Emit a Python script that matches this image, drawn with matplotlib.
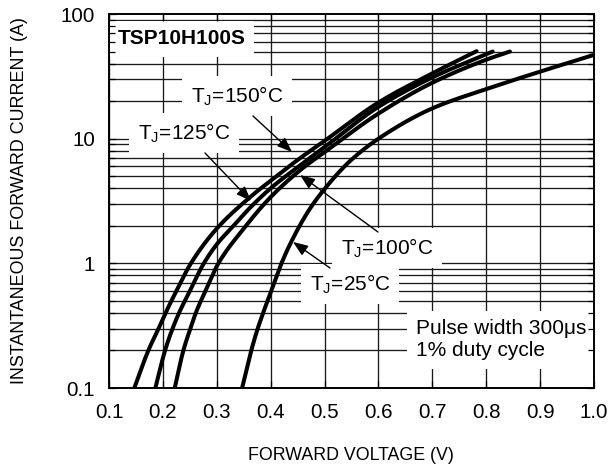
import matplotlib
matplotlib.use("Agg")
import matplotlib.pyplot as plt
import numpy as np

plt.rcParams['font.family'] = ['Liberation Sans', 'DejaVu Sans']

# Forward characteristics (V, A)
v_150 = [0.147, 0.173, 0.192, 0.205, 0.225, 0.252, 0.300, 0.362, 0.400, 0.455, 0.500, 0.600, 0.700, 0.782]
i_150 = [0.1, 0.2, 0.3, 0.4, 0.6, 1.0, 1.9, 3.4, 4.6, 7.0, 9.6, 19.5, 33.4, 50.3]

v_125 = [0.186, 0.204, 0.218, 0.230, 0.250, 0.276, 0.300, 0.331, 0.362, 0.400, 0.450, 0.500, 0.600, 0.700, 0.812]
i_125 = [0.1, 0.2, 0.3, 0.4, 0.6, 1.0, 1.42, 2.0, 2.8, 4.0, 5.9, 8.55, 18.0, 31.0, 50.0]

v_100 = [0.222, 0.238, 0.251, 0.261, 0.279, 0.303, 0.350, 0.400, 0.455, 0.500, 0.600, 0.700, 0.800, 0.844]
i_100 = [0.1, 0.2, 0.3, 0.4, 0.6, 1.0, 1.9, 3.4, 5.6, 7.8, 15.9, 28.1, 43.0, 50.0]

v_25 = [0.347, 0.364, 0.376, 0.386, 0.401, 0.420, 0.445, 0.473, 0.500, 0.547, 0.600, 0.700, 0.800, 0.900, 1.000]
i_25 = [0.1, 0.2, 0.3, 0.4, 0.6, 1.0, 1.7, 2.75, 3.95, 6.6, 10.0, 17.5, 25.0, 34.5, 47.0]

x_ticks = [0.1, 0.2, 0.3, 0.4, 0.5, 0.6, 0.7, 0.8, 0.9, 1.0]
x_labels = ['0.1', '0.2', '0.3', '0.4', '0.5', '0.6', '0.7', '0.8', '0.9', '1.0']
y_ticks = [0.1, 1, 10, 100]
y_labels = ['0.1', '1', '10', '100']


def smooth_path(v, i, n=25):
    """Monotone cubic Hermite through the read points (in log-current space), for drawing only."""
    x = np.asarray(v, float)
    y = np.log10(np.asarray(i, float))
    h = np.diff(x)
    d = np.diff(y) / h
    m = np.zeros_like(x)
    m[0], m[-1] = d[0], d[-1]
    for k in range(1, len(x) - 1):
        if d[k - 1] * d[k] <= 0:
            m[k] = 0
        else:
            w1 = 2 * h[k] + h[k - 1]
            w2 = h[k] + 2 * h[k - 1]
            m[k] = (w1 + w2) / (w1 / d[k - 1] + w2 / d[k])
    xs, ys = [], []
    for k in range(len(x) - 1):
        t = np.linspace(0, 1, n, endpoint=False)
        h00 = 2 * t**3 - 3 * t**2 + 1
        h10 = t**3 - 2 * t**2 + t
        h01 = -2 * t**3 + 3 * t**2
        h11 = t**3 - t**2
        xs.append(x[k] + t * h[k])
        ys.append(h00 * y[k] + h10 * h[k] * m[k] + h01 * y[k + 1] + h11 * h[k] * m[k + 1])
    xs.append([x[-1]])
    ys.append([y[-1]])
    return np.concatenate(xs), 10 ** np.concatenate(ys)


W, H = 616, 475
fig = plt.figure(figsize=(W / 100, H / 100), dpi=100)
L, R, T, B = 109, 594, 14, 388
ax = fig.add_axes([L / W, (H - B) / H, (R - L) / W, (B - T) / H])
ax.set_yscale('log')
ax.set_xlim(0.1, 1.0)
ax.set_ylim(0.1, 100)

# grid
for xv in x_ticks:
    ax.axvline(xv, color='#1a1a1a', lw=0.95, zorder=1)
for dec in [0.1, 1, 10]:
    for k in range(1, 10):
        ax.axhline(k * dec, color='#1a1a1a', lw=0.95, zorder=1)

# curves
for v, i in [(v_150, i_150), (v_125, i_125), (v_100, i_100), (v_25, i_25)]:
    sx, sy = smooth_path(v, i)
    ax.plot(sx, sy, color='black', lw=2.9, solid_capstyle='round', solid_joinstyle='round', zorder=4)

ax.set_xticks(x_ticks)
ax.set_xticklabels(x_labels)
ax.set_yticks(y_ticks)
ax.set_yticklabels(y_labels)
ax.tick_params(which='both', direction='in', top=True, right=True, labelsize=14.8, colors='black')
ax.tick_params(which='major', length=5, width=0.9)
ax.tick_params(which='minor', length=4, width=0.9)
ax.tick_params(axis='x', which='both', pad=11)
ax.tick_params(axis='y', which='both', pad=10)
ax.yaxis.set_minor_formatter(matplotlib.ticker.NullFormatter())
ax.xaxis.set_zorder(6)
ax.yaxis.set_zorder(6)
for s in ax.spines.values():
    s.set_linewidth(1.4)
    s.set_zorder(7)

fs = 15
box = dict(facecolor='white', edgecolor='none', pad=6)


def px(xp, yp):
    # figure pixel coords (top-left origin) -> figure fraction
    return (xp / W, 1 - yp / H)


ax.text(*px(182, 39), 'TSP10H100S', transform=fig.transFigure, ha='center', va='center',
        fontsize=fs, fontweight='bold', bbox=dict(facecolor='white', edgecolor='none', pad=6), zorder=3)

labels = [
    ('T$_\\mathregular{J}$=150\u00b0C', (237, 96), (253, 116), (292, 152)),
    ('T$_\\mathregular{J}$=125\u00b0C', (184, 133), (205, 153), (251, 201)),
    ('T$_\\mathregular{J}$=100\u00b0C', (387, 248), (378, 232), (300, 175)),
    ('T$_\\mathregular{J}$=25\u00b0C', (350, 284), (330, 268), (293, 242)),
]
for txt, c, a0, a1 in labels:
    ax.text(*px(*c), txt, transform=fig.transFigure, ha='center', va='center', fontsize=fs,
            bbox=box, zorder=3)
    ax.annotate('', xy=px(*a1), xycoords='figure fraction', xytext=px(*a0), textcoords='figure fraction',
                arrowprops=dict(arrowstyle='-|>,head_length=0.9,head_width=0.35', color='black', lw=1.0,
                                shrinkA=0, shrinkB=0), zorder=5)

ax.text(*px(501, 340), 'Pulse width 300\u03bcs\n1% duty cycle', transform=fig.transFigure,
        ha='center', va='center', fontsize=fs, linespacing=1.2, multialignment='left',
        bbox=dict(facecolor='white', edgecolor='none', pad=6), zorder=3)

fig.text(351 / W, 1 - 455 / H, 'FORWARD VOLTAGE (V)', ha='center', va='center', fontsize=12.8)
fig.text(20 / W, 1 - 201 / H, 'INSTANTANEOUS FORWARD CURRENT (A)', ha='center', va='center',
         fontsize=12.9, rotation=90)

fig.savefig('out.png', dpi=100)
